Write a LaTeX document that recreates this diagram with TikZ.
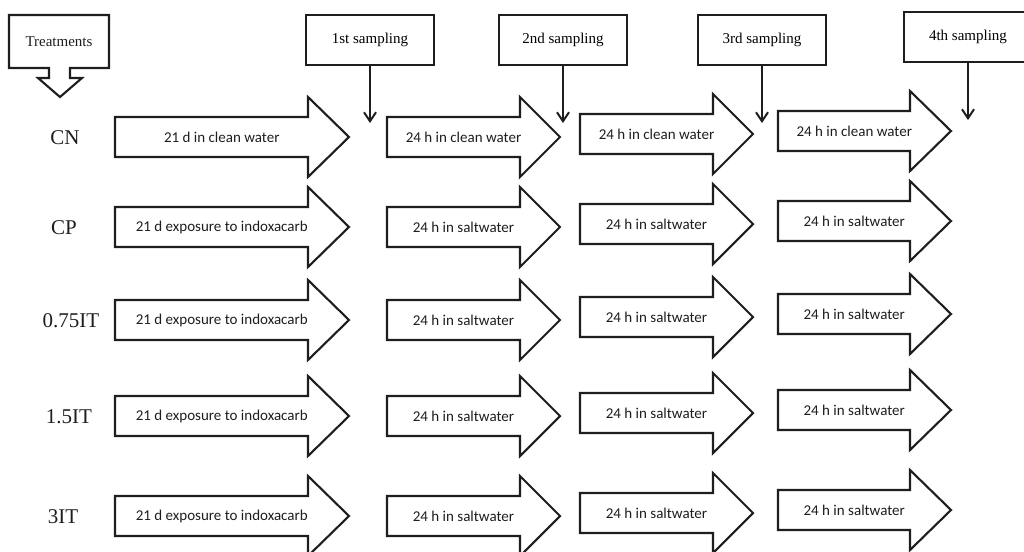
\documentclass[tikz,border=0pt]{standalone}
\usepackage{fontspec}
\setmainfont{Liberation Serif}
\newfontfamily\stepfont{Carlito}
\usepackage{tikz}
\usetikzlibrary{
  positioning,
  arrows.meta
}
\definecolor{ink}{HTML}{1E1E1E}

\begin{document}
\begin{tikzpicture}[x=1pt, y=-1pt,
  outline/.style={draw=ink, line width=2.1pt, fill=white, line join=miter},
  sampbox/.style={draw=ink, line width=2.1pt, minimum width=128pt, minimum height=50pt, inner sep=0pt, font=\fontsize{15}{18}\selectfont},
  rowlab/.style={font=\fontsize{21}{24}\selectfont, text=ink},
  steptext/.style={font=\stepfont\fontsize{15}{18}\selectfont, text=ink},
  down/.style={draw=ink, line width=2pt, -{Straight Barb[length=9pt, width=12pt]}}
]
  \useasboundingbox (0,0) rectangle (1024,551);

  % Treatments callout
  \draw[outline] (9,15) -- (109,15) -- (109,68) -- (70,68) -- (70,78) -- (82,78)
    -- (60,97) -- (38,78) -- (49,78) -- (49,68) -- (9,68) -- cycle;
  \node[font=\fontsize{15}{18}\selectfont, text=ink] (treat) at (59,42) {Treatments};

  % Sampling boxes
  \foreach \i/\lab/\x/\y in {1/1st/370/40, 2/2nd/563/40, 3/3rd/762/40, 4/4th/968/37} {
    \node[sampbox] (s\i) at (\x,\y) {\lab{} sampling};
    \path (s\i.south) ++(0,57) coordinate (t\i);
    \draw[down] (s\i.south) -- (t\i);
  }

  % Rows
  \foreach \r/\lab/\lx/\y/\first/\later in {
      cn/CN/65/137/21 d in clean water/24 h in clean water,
      cp/CP/64/227/21 d exposure to indoxacarb/24 h in saltwater,
      it1/0.75IT/71/320/21 d exposure to indoxacarb/24 h in saltwater,
      it2/1.5IT/69/416/21 d exposure to indoxacarb/24 h in saltwater,
      it3/3IT/63/516/21 d exposure to indoxacarb/24 h in saltwater} {
    \node[rowlab] (\r) at (\lx,\y+1) {\lab};
    \foreach \c/\xa/\xb/\xt/\dy in {1/115/308/349/0, 2/387/520/560/0, 3/580/713/753/-3, 4/778/910/951/-6} {
      % block arrow
      \draw[outline] (\xa,\y+\dy-20) -- (\xb,\y+\dy-20) -- (\xb,\y+\dy-40) -- (\xt,\y+\dy)
        -- (\xb,\y+\dy+40) -- (\xb,\y+\dy+20) -- (\xa,\y+\dy+20) -- cycle;
      \ifnum\c=1
        \node[steptext] (\r-\c) at ({(2*\xa+\xb+\xt)/4},\y+\dy) {\first};
      \else
        \node[steptext] (\r-\c) at ({(2*\xa+\xb+\xt)/4},\y+\dy) {\later};
      \fi
    }
  }
\end{tikzpicture}
\end{document}
